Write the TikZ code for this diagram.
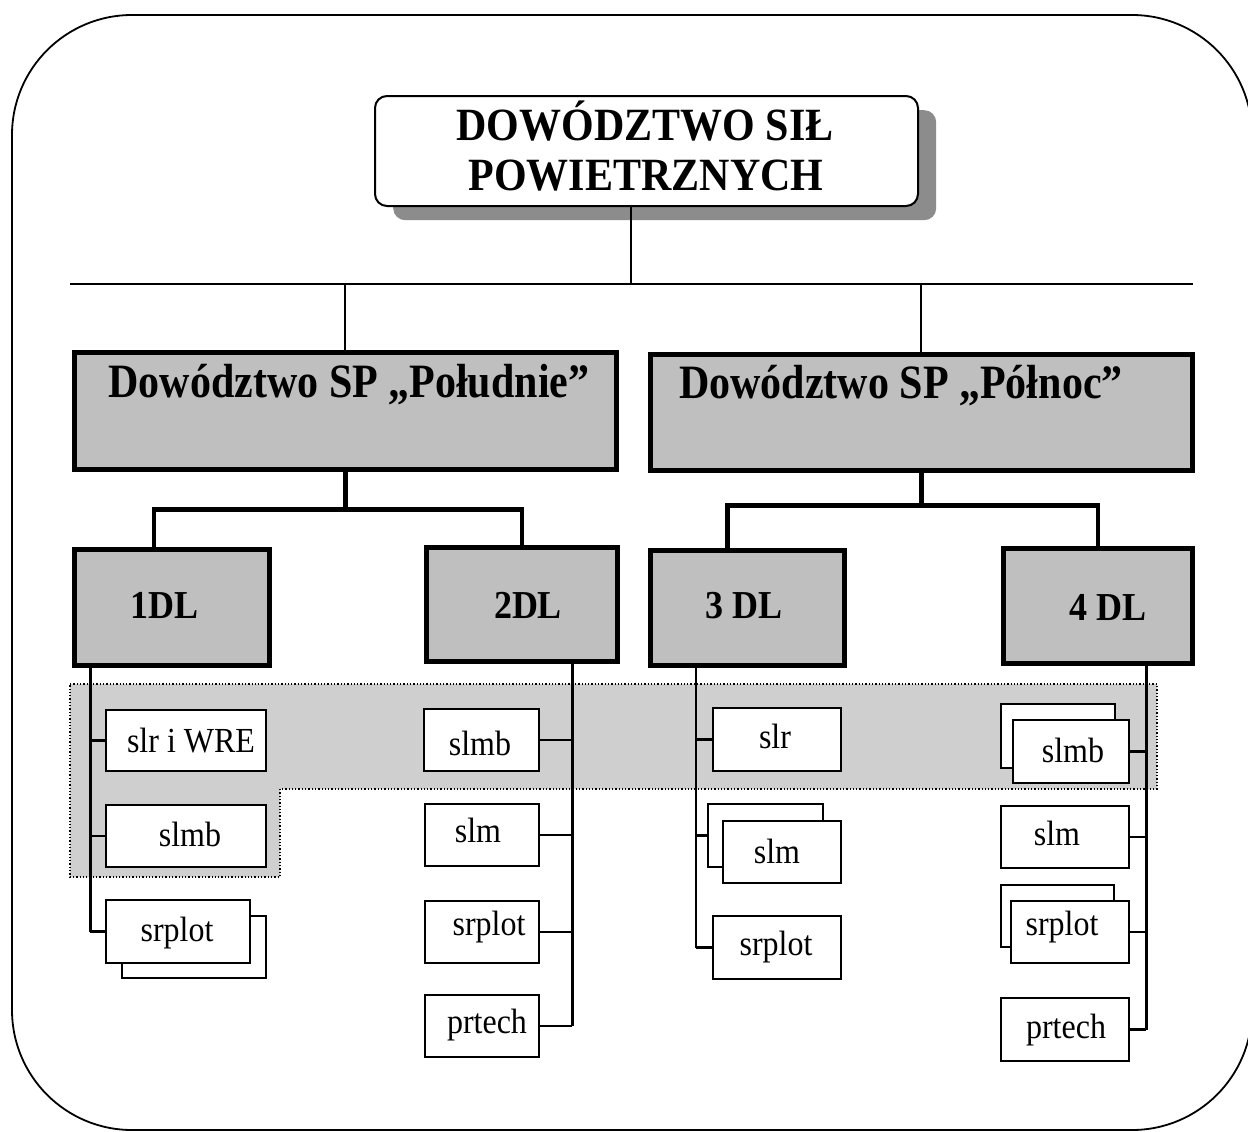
\documentclass[tikz,border=0pt]{standalone}
\usepackage{fontspec}
\setmainfont{Liberation Serif}
\usetikzlibrary{calc}
\newcommand{\vstretch}[1]{\scalebox{1}[1.1]{#1}}
\begin{document}
\begin{tikzpicture}[x=1pt,y=-1pt,
  headbox/.style={draw, line width=2pt, fill=white, rounded corners=12pt, inner sep=0pt, anchor=north west},
  shadowbox/.style={fill=black!45, rounded corners=12pt, inner sep=0pt, anchor=north west},
  bigbox/.style={draw, line width=4.5pt, fill=black!25, inner sep=0pt, anchor=north west},
  subbox/.style={draw, line width=2.2pt, fill=white, inner sep=0pt, anchor=north west},
  thickline/.style={line width=4.5pt},
  thinline/.style={line width=2.4pt},
  headtxt/.style={anchor=base, font=\bfseries\fontsize{42}{50}\selectfont},
  sptxt/.style={anchor=base, font=\bfseries\fontsize{42}{50}\selectfont},
  dltxt/.style={anchor=base, font=\bfseries\fontsize{36}{40}\selectfont},
  subtxt/.style={anchor=base, font=\fontsize{32}{36}\selectfont}
]
\useasboundingbox (0,0) rectangle (1248,1132);
\fill[white] (0,0) rectangle (1248,1132);
% outer frame
\draw[line width=1.8pt, rounded corners=120pt] (12,15) rectangle (1252,1130);

% highlighted band
\draw[dotted, line width=1.3pt, fill=black!19] (70,684) -- (1157,684) -- (1157,789) -- (280,789) -- (280,877) -- (70,877) -- cycle;

% top box
\node[shadowbox, minimum width=543pt, minimum height=110pt] (topsh) at (393,110) {};
\node[headbox, minimum width=543pt, minimum height=110pt] (top) at (374,95) {};
\node[headtxt] (h1) at (645,140) {\vstretch{DOWÓDZTWO SIŁ}};
\node[headtxt] (h2) at (646,190) {\vstretch{POWIETRZNYCH}};

% SP boxes
\node[bigbox, minimum width=542pt, minimum height=117pt] (pol) at (72,350) {};
\node[bigbox, minimum width=542pt, minimum height=116pt] (pln) at (648,352) {};
\node[sptxt] (tpol) at (349,397) {\scalebox{1}[1.14]{Dowództwo SP „Południe”}};
\node[sptxt] (tpln) at (901,398) {\scalebox{1}[1.14]{Dowództwo SP „Północ”}};

% DL boxes
\node[bigbox, minimum width=195pt, minimum height=116pt] (d1) at (72,547) {};
\node[bigbox, minimum width=191pt, minimum height=114pt] (d2) at (424,545) {};
\node[bigbox, minimum width=194pt, minimum height=115pt] (d3) at (648,548) {};
\node[bigbox, minimum width=189pt, minimum height=115pt] (d4) at (1001,546) {};
\node[dltxt] (t1) at (165,618) {\vstretch{1DL}};
\node[dltxt] (t2) at (528,618) {\vstretch{2DL}};
\node[dltxt] (t3) at (744,618) {\vstretch{3 DL}};
\node[dltxt] (t4) at (1108,620) {\vstretch{4 DL}};

% top connectors
\coordinate (busL) at (70,284);
\coordinate (busR) at (1193,284);
\coordinate (tt) at ($(top.south west)!0.472!(top.south east)$);
\draw[thinline] (busL) -- (busR);
\draw[thinline] (tt) -- (tt |- busL);
\draw[thinline] (pol.north |- busL) -- (pol.north);
\draw[thinline] (pln.north |- busL) -- (pln.north);

% SP -> DL connectors
\coordinate (k1) at ($(pol.south)+(0,38)$);
\coordinate (k2) at ($(pln.south)+(0,33)$);
\coordinate (d1t) at ($(d1.north west)!0.41!(d1.north east)$);
\coordinate (d3t) at ($(d3.north west)!0.40!(d3.north east)$);
\draw[thickline] (pol.south) -- (k1);
\draw[thickline] (k1) -| (d1t);
\draw[thickline] (k1) -| (d2.north);
\draw[thickline] (pln.south) -- (k2);
\draw[thickline] (k2) -| (d3t);
\draw[thickline] (k2) -| (d4.north);

% column 1
\node[subbox, minimum width=160pt, minimum height=61pt] (a1) at (105,709) {};
\node[subbox, minimum width=160pt, minimum height=62pt] (a2) at (105,804) {};
\node[subbox, minimum width=144pt, minimum height=62pt] (a3b) at (121,915) {};
\node[subbox, minimum width=144pt, minimum height=63pt] (a3) at (105,899) {};
\node[subtxt] (ta1) at (191,752) {\vstretch{slr i WRE}};
\node[subtxt] (ta2) at (190,846) {\vstretch{slmb}};
\node[subtxt] (ta3) at (177,941) {\vstretch{srplot}};
\coordinate (tr1) at ($(d1.south west)!0.092!(d1.south east)$);
\draw[thinline] (tr1) -- (tr1 |- a3.west);
\draw[thinline] (a1.west) -- (a1.west -| tr1);
\draw[thinline] (a2.west) -- (a2.west -| tr1);
\draw[thinline] (a3.west) -- (a3.west -| tr1);

% column 2
\node[subbox, minimum width=115pt, minimum height=62pt] (b1) at (423,708) {};
\node[subbox, minimum width=114pt, minimum height=62pt] (b2) at (424,803) {};
\node[subbox, minimum width=114pt, minimum height=62pt] (b3) at (424,900) {};
\node[subbox, minimum width=114pt, minimum height=62pt] (b4) at (424,994) {};
\node[subtxt] (tb1) at (480,755) {\vstretch{slmb}};
\node[subtxt] (tb2) at (478,842) {\vstretch{slm}};
\node[subtxt] (tb3) at (489,935) {\vstretch{srplot}};
\node[subtxt] (tb4) at (487,1033) {\vstretch{prtech}};
\coordinate (tr2) at ($(d2.south west)!0.759!(d2.south east)$);
\draw[thinline] (tr2) -- (tr2 |- b4.east);
\draw[thinline] (b1.east) -- (b1.east -| tr2);
\draw[thinline] (b2.east) -- (b2.east -| tr2);
\draw[thinline] (b3.east) -- (b3.east -| tr2);
\draw[thinline] (b4.east) -- (b4.east -| tr2);

% column 3
\node[subbox, minimum width=128pt, minimum height=63pt] (c1) at (712,707) {};
\node[subbox, minimum width=115pt, minimum height=63pt] (c2b) at (707,803) {};
\node[subbox, minimum width=118pt, minimum height=62pt] (c2) at (722,820) {};
\node[subbox, minimum width=128pt, minimum height=63pt] (c3) at (712,915) {};
\node[subtxt] (tc1) at (775,748) {\vstretch{slr}};
\node[subtxt] (tc2) at (777,863) {\vstretch{slm}};
\node[subtxt] (tc3) at (776,955) {\vstretch{srplot}};
\coordinate (tr3) at ($(d3.south west)!0.242!(d3.south east)$);
\draw[thinline] (tr3) -- (tr3 |- c3.west);
\draw[thinline] (c1.west) -- (c1.west -| tr3);
\draw[thinline] (c2b.west) -- (c2b.west -| tr3);
\draw[thinline] (c3.west) -- (c3.west -| tr3);

% column 4
\node[subbox, minimum width=114pt, minimum height=64pt] (e1b) at (1000,703) {};
\node[subbox, minimum width=116pt, minimum height=63pt] (e1) at (1012,719) {};
\node[subbox, minimum width=128pt, minimum height=62pt] (e2) at (1000,805) {};
\node[subbox, minimum width=113pt, minimum height=62pt] (e3b) at (1000,884) {};
\node[subbox, minimum width=118pt, minimum height=62pt] (e3) at (1010,900) {};
\node[subbox, minimum width=128pt, minimum height=63pt] (e4) at (1000,997) {};
\node[subtxt] (te1) at (1073,762) {\vstretch{slmb}};
\node[subtxt] (te2) at (1057,845) {\vstretch{slm}};
\node[subtxt] (te3) at (1062,935) {\vstretch{srplot}};
\node[subtxt] (te4) at (1066,1038) {\vstretch{prtech}};
\coordinate (tr4) at ($(d4.south west)!0.751!(d4.south east)$);
\draw[thinline] (tr4) -- (tr4 |- e4.east);
\draw[thinline] (e1.east) -- (e1.east -| tr4);
\draw[thinline] (e2.east) -- (e2.east -| tr4);
\draw[thinline] (e3.east) -- (e3.east -| tr4);
\draw[thinline] (e4.east) -- (e4.east -| tr4);
\end{tikzpicture}
\end{document}
